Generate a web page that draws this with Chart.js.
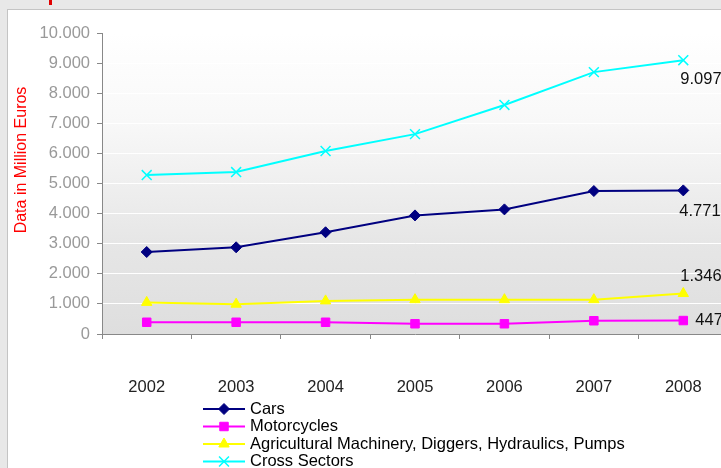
<!DOCTYPE html>
<html>
<head>
<meta charset="utf-8">
<script src="https://cdn.jsdelivr.net/npm/chart.js@4.4.0/dist/chart.umd.min.js"></script>
<style>
  html, body { margin: 0; padding: 0; width: 721px; height: 468px; overflow: hidden; background: #e8e8e8; }
  #panel { position: absolute; left: 7px; top: 9px; width: 800px; height: 500px; background: #fff;
           border-left: 1px solid #c4c4c4; border-top: 1px solid #c4c4c4; }
  #redbit { position: absolute; left: 49px; top: 0; width: 3px; height: 5px; background: #e00000; }
  #wrap { position: absolute; left: 0; top: 0; width: 745px; height: 468px; }
</style>
</head>
<body>
<div id="panel"></div>
<div id="redbit"></div>
<div id="wrap"><canvas id="chart"></canvas></div>
<script>
/* data */
const years = ['2002', '2003', '2004', '2005', '2006', '2007', '2008'];
const cars = [2724, 2880, 3380, 3940, 4140, 4750, 4771];
const motorcycles = [390, 390, 390, 340, 340, 440, 447];
const agriculture = [1050, 990, 1100, 1140, 1140, 1140, 1346];
const crossSectors = [5280, 5380, 6080, 6640, 7610, 8700, 9097];
const seriesNames = ['Cars', 'Motorcycles', 'Agricultural Machinery, Diggers, Hydraulics, Pumps', 'Cross Sectors'];
const yTickStep = 1000;
const yMax = 10000;
const yTitle = 'Data in Million Euros';

const FONT = "'Liberation Sans', Arial, sans-serif";
const TXT = 16.5;

// thousands with a dot, like the original
const fmt = v => String(v).replace(/\B(?=(\d{3})+(?!\d))/g, '.');

const looks = [
  { color: '#000080', style: 'rectRot', r: 5.5, lab: { dx: -4, dy: 21 } },
  { color: '#ff00ff', style: 'rect', r: 6, lab: { dx: 12, dy: 0 } },
  { color: '#ffff00', style: 'triangle', r: 6, lab: { dx: -3, dy: -17 } },
  { color: '#00ffff', style: 'crossRot', r: 7, lab: { dx: -3, dy: 19 } }
];
const seriesData = [cars, motorcycles, agriculture, crossSectors];

const datasets = seriesData.map((d, i) => ({
  label: seriesNames[i],
  data: d,
  borderColor: looks[i].color,
  backgroundColor: looks[i].color,
  pointBackgroundColor: looks[i].color,
  pointBorderColor: looks[i].color,
  pointStyle: looks[i].style,
  pointRadius: looks[i].r,
  pointBorderWidth: looks[i].style === 'crossRot' ? 1.5 : 1,
  borderWidth: 2,
  tension: 0
}));

// plot-area gradient, drawn behind everything
const plotBg = {
  id: 'plotBg',
  beforeDraw(chart) {
    const { ctx, chartArea: a } = chart;
    const g = ctx.createLinearGradient(0, a.top, 0, a.bottom);
    g.addColorStop(0, '#ffffff');
    g.addColorStop(0.3, '#f8f8f8');
    g.addColorStop(0.7, '#e6e6e6');
    g.addColorStop(1, '#dedede');
    ctx.save();
    ctx.fillStyle = g;
    ctx.fillRect(a.left, a.top, a.right - a.left, a.bottom - a.top);
    ctx.restore();
  }
};

// y title, end labels and the legend block
const extras = {
  id: 'extras',
  afterDraw(chart) {
    const ctx = chart.ctx;
    ctx.save();

    // y axis title
    ctx.save();
    ctx.font = '16px ' + FONT;
    ctx.translate(22, 160);
    ctx.rotate(-Math.PI / 2);
    ctx.fillStyle = '#ff0000';
    ctx.textAlign = 'center';
    ctx.textBaseline = 'middle';
    ctx.fillText(yTitle, 0, 0);
    ctx.restore();

    ctx.font = TXT + 'px ' + FONT;
    // value labels on the last point
    ctx.fillStyle = '#111';
    ctx.textAlign = 'left';
    ctx.textBaseline = 'middle';
    chart.data.datasets.forEach((ds, i) => {
      const meta = chart.getDatasetMeta(i);
      const last = meta.data[meta.data.length - 1];
      const v = ds.data[ds.data.length - 1];
      ctx.fillText(fmt(v), last.x + looks[i].lab.dx, last.y + looks[i].lab.dy);
    });

    // legend
    const lx0 = 203, lx1 = 245, tx = 250, y0 = 409, rowH = 17.5;
    seriesNames.forEach((name, i) => {
      const y = y0 + i * rowH;
      ctx.strokeStyle = looks[i].color;
      ctx.fillStyle = looks[i].color;
      ctx.lineWidth = 2;
      ctx.beginPath();
      ctx.moveTo(lx0, y);
      ctx.lineTo(lx1, y);
      ctx.stroke();
      ctx.lineWidth = looks[i].style === 'crossRot' ? 1.5 : 1;
      Chart.helpers.drawPoint(ctx, { pointStyle: looks[i].style, radius: looks[i].r, rotation: 0, borderWidth: 1 }, (lx0 + lx1) / 2, y);
      ctx.fillStyle = '#000';
      ctx.fillText(name, tx, y);
    });
    ctx.restore();
  }
};

new Chart(document.getElementById('chart'), {
  type: 'line',
  data: { labels: years, datasets },
  plugins: [plotBg, extras],
  options: {
    responsive: true,
    maintainAspectRatio: false,
    animation: false,
    layout: { padding: { left: 0, top: 33, right: 17, bottom: 0 } },
    plugins: { legend: { display: false }, tooltip: { enabled: false } },
    scales: {
      x: {
        type: 'category',
        offset: true,
        grid: { drawOnChartArea: false, offset: true, tickLength: 5, tickColor: '#888' },
        border: { color: '#888' },
        ticks: { color: '#222', font: { size: TXT, family: FONT }, padding: 39, maxRotation: 0 },
        afterFit(s) { s.height = 134; }
      },
      y: {
        min: 0,
        max: yMax,
        grid: { color: '#ffffff', tickLength: 5, tickColor: '#888' },
        border: { color: '#888' },
        ticks: { stepSize: yTickStep, color: '#999', font: { size: TXT, family: FONT }, padding: 7, callback: v => fmt(v) },
        afterFit(s) { s.width = 102; }
      }
    }
  }
});
</script>
</body>
</html>
